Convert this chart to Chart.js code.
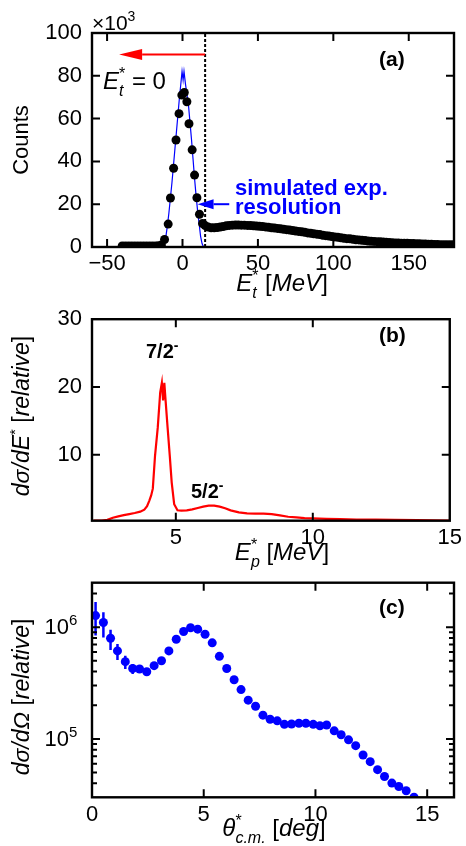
<!DOCTYPE html>
<html>
<head>
<meta charset="utf-8">
<script src="https://cdn.jsdelivr.net/npm/chart.js@4.4.1/dist/chart.umd.min.js"></script>
<style>
  body { margin: 0; background: #fff; width: 466px; height: 846px; position: relative; overflow: hidden; }
  canvas { position: absolute; left: 0; }
</style>
</head>
<body>
<canvas id="ca" style="top:0" width="466" height="300"></canvas>
<canvas id="cb" style="top:296px" width="466" height="274"></canvas>
<canvas id="cc" style="top:566px" width="466" height="280"></canvas>
<script>
const FONT = "'Liberation Sans', Arial, Helvetica, sans-serif";

// ---------- (a) counts vs E_t* (x10^3) ----------
const aTicksX = [-50, 0, 50, 100, 150];
const aTicksY = [0, 20, 40, 60, 80, 100];
const aLeftX = [-40, -38, -36, -34, -32, -30, -28, -26, -24, -22, -20, -18, -16, -14];
const aLeftY = [0.5, 0.5, 0.5, 0.5, 0.5, 0.5, 0.5, 0.5, 0.5, 0.5, 0.5, 0.5, 0.6, 0.9];
const aPeakX = [-11.9, -9.5, -8.0, -5.9, -4.3, -2.3, -0.45, 1.2, 2.9, 4.3, 6.4, 8.0, 9.55, 11.25, 13.3];
const aPeakY = [3.5, 10.7, 22.9, 36.8, 50.0, 62.3, 71.0, 72.2, 67.9, 57.6, 45.4, 33.6, 23.0, 15.3, 11.0];
const aTailX = [15, 17, 19, 21, 23, 25, 27, 29, 31, 33, 35, 37, 39, 41, 43, 45, 47, 49, 51, 53,
  55, 57, 59, 61, 63, 65, 67, 69, 71, 73, 75, 77, 79, 81, 83, 85, 87, 89, 91, 93,
  95, 97, 99, 101, 103, 105, 107, 109, 111, 113, 115, 117, 119, 121, 123, 125, 127, 129, 131, 133,
  135, 137, 139, 141, 143, 145, 147, 149, 151, 153, 155, 157, 159, 161, 163, 165, 167, 169, 171, 173,
  175, 177, 179];
const aTailY = [10.0, 9.3, 9.0, 9.0, 9.1, 9.3, 9.6, 9.9, 10.1, 10.2,
  10.3, 10.3, 10.2, 10.2, 10.1, 10.0, 9.9, 9.8, 9.7, 9.6,
  9.4, 9.2, 9.0, 8.9, 8.7, 8.5, 8.3, 8.1, 7.9, 7.7,
  7.5, 7.3, 7.1, 6.9, 6.6, 6.4, 6.2, 6.0, 5.8, 5.5,
  5.3, 5.1, 4.9, 4.7, 4.5, 4.3, 4.1, 3.9, 3.8, 3.6,
  3.4, 3.3, 3.1, 3.0, 2.8, 2.7, 2.6, 2.5, 2.4, 2.3,
  2.2, 2.1, 2.0, 1.9, 1.9, 1.8, 1.7, 1.7, 1.6, 1.6,
  1.5, 1.5, 1.4, 1.4, 1.3, 1.3, 1.2, 1.2, 1.1, 1.1,
  1.0, 1.0, 1.0];
// simulated experimental resolution
const aResX = [-30, -14, -13, -12, -11, -10, -9, -8, -7, -6, -5, -4, -3, -2, -1, -0.3, 0.4, 1, 2, 3,
  4, 5, 6, 7, 8, 9, 10, 11, 12, 13, 14, 30];
const aResY = [0, 0, 0.5, 2, 5, 10, 16, 23, 30, 38, 46, 54, 62, 70, 77, 82, 78, 82, 76, 71,
  66, 58, 50, 41, 32, 24, 17, 11, 5, 1.5, 0, 0];

// ---------- (b) dsigma/dE* vs E_p* ----------
const bTicksX = [5, 10, 15];
const bTicksY = [10, 20, 30];
const bEx = [2.0, 2.3, 2.5, 2.7, 2.9, 3.1, 3.3, 3.5, 3.7, 3.85,
  3.95, 4.03, 4.1, 4.16, 4.24, 4.34, 4.43, 4.49, 4.535, 4.58,
  4.63, 4.7, 4.78, 4.85, 4.94, 5.06, 5.2, 5.4, 5.6, 5.8,
  6.0, 6.2, 6.4, 6.6, 6.8, 7.0, 7.3, 7.6, 7.9, 8.2,
  8.5, 8.8, 9.1, 9.4, 9.7, 10.0, 10.5, 11.0, 11.6, 12.3,
  13.0, 13.8, 15.0];
const bXs = [0.3, 0.3, 0.4, 0.7, 0.9, 1.1, 1.25, 1.4, 1.6, 1.9,
  2.4, 3.2, 4.0, 5.0, 9.8, 14, 19.2, 20.6, 18, 20.6,
  17.8, 14, 9.8, 5.9, 2.7, 1.8, 1.75, 1.8, 1.95, 2.15,
  2.35, 2.5, 2.5, 2.35, 2.1, 1.8, 1.5, 1.35, 1.3, 1.3,
  1.25, 1.05, 0.85, 0.75, 0.65, 0.6, 0.55, 0.5, 0.45, 0.42,
  0.4, 0.35, 0.3];

// ---------- (c) dsigma/dOmega vs theta_cm ----------
const cTicksX = [0, 5, 10, 15];
const cTicksY = [1e5, 1e6];
const cMinorY = [4e4, 5e4, 6e4, 7e4, 8e4, 9e4, 2e5, 3e5, 4e5, 5e5, 6e5, 7e5, 8e5, 9e5, 2e6];
const cAngle = [0.16, 0.51, 0.83, 1.14, 1.49, 1.82, 2.13, 2.45, 2.78, 3.11,
  3.44, 3.77, 4.10, 4.41, 4.73, 5.06, 5.38, 5.70, 6.03, 6.36,
  6.67, 6.99, 7.32, 7.65, 7.97, 8.29, 8.61, 8.93, 9.26, 9.57,
  9.90, 10.2, 10.5, 10.84, 11.15, 11.48, 11.8, 12.13, 12.45, 12.78,
  13.09, 13.42, 13.73, 14.06, 14.41];
const cXsec = [1.27e6, 1.1e6, 7.96e5, 6.13e5, 4.91e5, 4.27e5, 4.22e5, 3.99e5, 4.52e5, 5.0e5,
  6.13e5, 7.8e5, 9.15e5, 9.87e5, 9.6e5, 8.65e5, 7.24e5, 5.48e5, 4.27e5, 3.38e5,
  2.76e5, 2.22e5, 1.96e5, 1.63e5, 1.5e5, 1.45e5, 1.35e5, 1.36e5, 1.38e5, 1.38e5,
  1.35e5, 1.31e5, 1.33e5, 1.18e5, 1.09e5, 9.8e4, 8.7e4, 7.18e4, 6.25e4, 5.3e4,
  4.61e4, 4.02e4, 3.75e4, 3.43e4, 3.0e4];
const cErrLo = [8.4e5, 8.1e5, 6.26e5, 5.08e5, 4.22e5, 3.8e5, 3.9e5, 3.85e5];
const cErrHi = [1.68e6, 1.36e6, 9.5e5, 7.08e5, 5.56e5, 4.68e5, 4.55e5, 4.1e5];

const pts = (xs, ys) => xs.map((x, i) => ({ x: x, y: ys[i] }));

// text with sub/superscripts; parts: {t, i, b, sub, sup, back}
function rich(ctx, x, y, parts, size, align, rot, color) {
  const fontOf = p => (p.i ? 'italic ' : '') + (p.b ? 'bold ' : '') +
    Math.round((p.sub || p.sup) ? size * 0.68 : size) + 'px ' + FONT;
  let end = 0, prev = 0;
  const laid = parts.map(p => {
    ctx.font = fontOf(p);
    const w = ctx.measureText(p.t).width;
    const sx = p.back ? prev : end;
    prev = sx;
    end = Math.max(end, sx + w);
    return { p, sx };
  });
  ctx.save();
  ctx.translate(x, y);
  if (rot) ctx.rotate(-Math.PI / 2);
  const x0 = align === 'center' ? -end / 2 : align === 'right' ? -end : 0;
  ctx.fillStyle = color || '#000';
  ctx.textAlign = 'left';
  ctx.textBaseline = 'alphabetic';
  laid.forEach(({ p, sx }) => {
    ctx.font = fontOf(p);
    const dy = p.sub ? size * 0.3 : p.sup ? -size * 0.42 : 0;
    ctx.fillText(p.t, x0 + sx, dy);
  });
  ctx.restore();
}

function arrow(ctx, x1, y, x2, head, half, color) {
  // line from x1 to tip x2, head pointing toward x2
  const dir = x2 < x1 ? 1 : -1;
  ctx.save();
  ctx.strokeStyle = color; ctx.fillStyle = color; ctx.lineWidth = 2;
  ctx.beginPath(); ctx.moveTo(x1, y); ctx.lineTo(x2 + dir * head, y); ctx.stroke();
  ctx.beginPath();
  ctx.moveTo(x2, y); ctx.lineTo(x2 + dir * head, y - half); ctx.lineTo(x2 + dir * head, y + half);
  ctx.closePath(); ctx.fill();
  ctx.restore();
}

// frame with inward ticks on all four sides
const frame = {
  id: 'frame',
  afterDraw(chart, args, o) {
    const { ctx, chartArea: a, scales } = chart;
    ctx.save();
    ctx.strokeStyle = '#000';
    ctx.lineWidth = 2;
    ctx.beginPath();
    scales.x.ticks.forEach(t => {
      const px = scales.x.getPixelForValue(t.value);
      if (px < a.left + 2 || px > a.right - 2) return;
      ctx.moveTo(px, a.bottom); ctx.lineTo(px, a.bottom - 8);
      ctx.moveTo(px, a.top); ctx.lineTo(px, a.top + 8);
    });
    const yt = (v, len) => {
      const py = scales.y.getPixelForValue(v);
      if (py < a.top + 2 || py > a.bottom - 2) return;
      ctx.moveTo(a.left, py); ctx.lineTo(a.left + len, py);
      ctx.moveTo(a.right, py); ctx.lineTo(a.right - len, py);
    };
    scales.y.ticks.forEach(t => yt(t.value, 8));
    (o.minorY || []).forEach(v => yt(v, 5));
    ctx.stroke();
    ctx.lineWidth = 2.4;
    ctx.strokeRect(a.left, a.top, a.right - a.left, a.bottom - a.top);
    ctx.restore();
  }
};

function axes(xMin, xMax, xTicks, yMin, yMax, yTicks, xH, yType, yShow) {
  const tickFont = { family: FONT, size: 22 };
  return {
    x: {
      type: 'linear', min: xMin, max: xMax,
      afterBuildTicks: s => { s.ticks = xTicks.map(v => ({ value: v })); },
      afterFit: s => { s.height = xH; },
      grid: { display: false, drawTicks: false },
      border: { display: false },
      ticks: { color: '#000', font: tickFont, padding: 4, autoSkip: false, maxRotation: 0,
        callback: v => String(v).replace('-', '\u2212') }
    },
    y: {
      type: yType, min: yMin, max: yMax,
      afterBuildTicks: s => { s.ticks = yTicks.map(v => ({ value: v })); },
      afterFit: s => { s.width = 92; },
      grid: { display: false, drawTicks: false },
      border: { display: false },
      ticks: { display: yShow, color: '#000', font: tickFont, padding: 10, autoSkip: false,
        callback: v => String(v) }
    }
  };
}

function baseOptions(padTop, scales, frameOpts) {
  return {
    responsive: false,
    animation: false,
    layout: { padding: { top: padTop, right: 12, left: 0, bottom: 0 } },
    plugins: { legend: { display: false }, tooltip: { enabled: false }, frame: frameOpts || {} },
    scales: scales
  };
}

// ---------- chart (a) ----------
new Chart(document.getElementById('ca'), {
  type: 'scatter',
  data: {
    datasets: [
      { data: pts(aLeftX, aLeftY).concat(pts(aPeakX, aPeakY), pts(aTailX, aTailY)),
        backgroundColor: '#000', borderColor: '#000', pointRadius: 4.5, borderWidth: 0, order: 0 },
      { data: pts(aResX, aResY), showLine: true, borderColor: '#0000ff', borderWidth: 1.2,
        pointRadius: 0, tension: 0, order: 1 }
    ]
  },
  options: baseOptions(33, axes(-60, 180, aTicksX, 0, 100, aTicksY, 53, 'linear', true)),
  plugins: [frame, {
    id: 'deco',
    afterDatasetsDraw(chart) {
      const { ctx, chartArea: a, scales: { x, y } } = chart;
      // dotted cut line
      ctx.save();
      ctx.strokeStyle = '#000'; ctx.lineWidth = 2; ctx.setLineDash([3, 2]);
      ctx.beginPath(); ctx.moveTo(x.getPixelForValue(15), a.bottom); ctx.lineTo(x.getPixelForValue(15), a.top); ctx.stroke();
      ctx.restore();
      arrow(ctx, x.getPixelForValue(15), y.getPixelForValue(90), x.getPixelForValue(-42), 23, 5.5, '#ff0000');
      arrow(ctx, x.getPixelForValue(31), y.getPixelForValue(20), x.getPixelForValue(10), 16, 5, '#0000ff');
    },
    afterDraw(chart) {
      const ctx = chart.ctx;
      rich(ctx, 92, 30, [{ t: '\u00d710' }, { t: '3', sup: true }], 21, 'left');
      rich(ctx, 379, 66, [{ t: '(a)', b: true }], 21, 'left');
      rich(ctx, 103, 89, [{ t: 'E', i: true }, { t: 't', i: true, sub: true }, { t: '*', sup: true, back: true }, { t: ' = 0' }], 23.5, 'left');
      rich(ctx, 235, 195, [{ t: 'simulated exp.', b: true }], 21.5, 'left', false, '#0000ff');
      rich(ctx, 235, 214, [{ t: 'resolution', b: true }], 21.5, 'left', false, '#0000ff');
      rich(ctx, 28, 140, [{ t: 'Counts' }], 22, 'center', true);
      rich(ctx, 282, 291, [{ t: 'E', i: true }, { t: 't', i: true, sub: true }, { t: '*', sup: true, back: true }, { t: ' [' }, { t: 'MeV', i: true }, { t: ']' }], 24, 'center');
    }
  }]
});

// ---------- chart (b) ----------
new Chart(document.getElementById('cb'), {
  type: 'scatter',
  data: {
    datasets: [
      { data: pts(bEx, bXs), showLine: true, borderColor: '#ff0000', borderWidth: 2.2,
        pointRadius: 0, tension: 0 }
    ]
  },
  options: baseOptions(12.3, axes(1.94, 15, bTicksX, 0.27, 30, bTicksY, 49.3, 'linear', true)),
  plugins: [frame, {
    id: 'deco',
    afterDraw(chart) {
      const ctx = chart.ctx;
      rich(ctx, 379, 46, [{ t: '(b)', b: true }], 21, 'left');
      rich(ctx, 146, 62, [{ t: '7/2', b: true }, { t: '-', b: true, sup: true }], 20, 'left');
      rich(ctx, 191, 202, [{ t: '5/2', b: true }, { t: '-', b: true, sup: true }], 20, 'left');
      rich(ctx, 29, 120, [{ t: 'd\u03c3/dE', i: true }, { t: '*', sup: true }, { t: ' [' }, { t: 'relative', i: true }, { t: ']' }], 22.5, 'center', true);
      rich(ctx, 282, 264, [{ t: 'E', i: true }, { t: 'p', i: true, sub: true }, { t: '*', sup: true, back: true }, { t: ' [' }, { t: 'MeV', i: true }, { t: ']' }], 24, 'center');
    }
  }]
});

// ---------- chart (c) ----------
new Chart(document.getElementById('cc'), {
  type: 'scatter',
  data: {
    datasets: [
      { data: pts(cAngle, cXsec), backgroundColor: '#0000ff', borderColor: '#0000ff',
        pointRadius: 4.5, borderWidth: 0 }
    ]
  },
  options: baseOptions(16.7, axes(0, 16.2, cTicksX, 3e4, 2.5e6, cTicksY, 48.7, 'logarithmic', false), { minorY: cMinorY }),
  plugins: [frame, {
    id: 'deco',
    beforeDatasetsDraw(chart) {
      const { ctx, scales: { x, y } } = chart;
      ctx.save();
      ctx.strokeStyle = '#0000ff'; ctx.lineWidth = 2.5;
      ctx.beginPath();
      cErrLo.forEach((lo, i) => {
        const px = x.getPixelForValue(cAngle[i]);
        ctx.moveTo(px, y.getPixelForValue(lo));
        ctx.lineTo(px, y.getPixelForValue(cErrHi[i]));
      });
      ctx.stroke();
      ctx.restore();
    },
    afterDraw(chart) {
      const { ctx, scales: { y } } = chart;
      cTicksY.forEach(v => {
        const py = y.getPixelForValue(v);
        rich(ctx, 69, py + 7, [{ t: '10' }], 22, 'right');
        rich(ctx, 69, py + 7, [{ t: String(Math.round(Math.log10(v))), sup: true }], 22, 'left');
      });
      rich(ctx, 379, 48, [{ t: '(c)', b: true }], 21, 'left');
      rich(ctx, 29, 131, [{ t: 'd\u03c3/d\u03a9', i: true }, { t: ' [' }, { t: 'relative', i: true }, { t: ']' }], 22.5, 'center', true);
      rich(ctx, 274, 270, [{ t: '\u03b8', i: true }, { t: 'c.m.', i: true, sub: true }, { t: '*', sup: true, back: true }, { t: ' [' }, { t: 'deg', i: true }, { t: ']' }], 24, 'center');
    }
  }]
});
</script>
</body>
</html>
